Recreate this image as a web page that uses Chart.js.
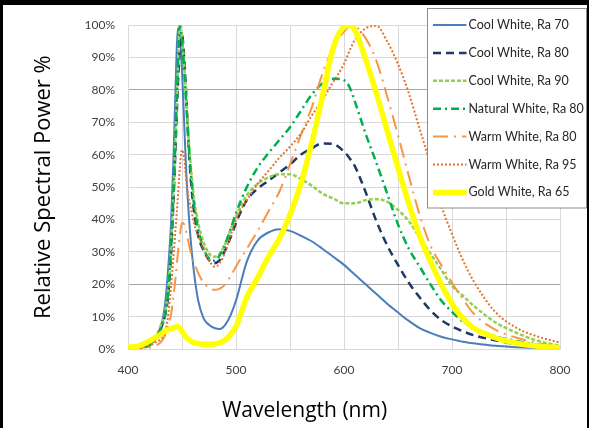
<!DOCTYPE html>
<html>
<head>
<meta charset="utf-8">
<script src="https://cdn.jsdelivr.net/npm/chart.js@4.4.1/dist/chart.umd.min.js"></script>
<style>
  html, body { margin: 0; padding: 0; background: #fff; }
  #frame {
    position: absolute; left: 0; top: 0; width: 589px; height: 428px; box-sizing: border-box;
    border-top: 5px solid #000; border-left: 3px solid #000; border-right: 2px solid #000; background: #fff;
  }
  canvas { display: block; }
</style>
</head>
<body>
<div id="frame"><canvas id="spectrum" width="584" height="423"></canvas></div>
<script>
// wavelength grid (nm) shared by all series, values in %
const wavelength = [400, 410, 420, 425, 430, 434, 437, 440, 442, 444, 446, 448, 450, 452, 454, 456, 458, 461, 465, 470,
  475, 480, 485, 490, 495, 500, 510, 520, 530, 540, 550, 560, 570, 580, 590, 600, 605, 610, 620, 630,
  640, 650, 660, 670, 680, 690, 700, 710, 720, 740, 760, 780, 800];

const coolWhite70 = [0, 0.3, 1.5, 3.5, 6.5, 13, 24, 40, 58, 80, 99, 97, 86, 70, 54, 43, 34, 24, 15, 9.5,
  7.5, 6.5, 6.2, 7.5, 10.5, 15, 27, 33.5, 36, 37, 36.5, 35, 33.3, 31, 28.5, 26, 24.5, 23, 20, 17,
  14, 11.3, 8.7, 6.5, 5, 3.8, 3, 2.3, 1.8, 1, 0.6, 0.3, 0.1];
const coolWhite80 = [0, 0.3, 1.5, 3, 6, 10, 16, 30, 45, 62, 80, 93, 97, 90, 78, 64, 53, 43, 35, 30.5,
  27.5, 26.5, 27.5, 30.5, 34.5, 39, 46, 49.5, 52, 54.5, 57, 60, 62, 63.5, 63.3, 61, 59, 56.5, 48.5, 39.5,
  32, 26, 20.5, 16, 12, 9, 7, 5.5, 4.3, 2.7, 1.5, 0.8, 0.3];
const coolWhite90 = [0, 0.3, 1.5, 3.5, 7, 11, 18, 33, 48, 66, 85, 99, 96, 88, 77, 66, 57, 47, 39, 33,
  29.5, 28.5, 29.5, 32.5, 37, 41, 47.5, 51, 53, 54, 54, 52.5, 50.5, 48, 46.5, 45, 45, 45, 46, 46.3,
  45.5, 43, 39.5, 34.5, 29.5, 24.5, 19.5, 16.5, 13.4, 8.3, 5, 2.5, 1];
const naturalWhite80 = [0, 0.3, 1.2, 3, 6, 10, 17, 32, 47, 65, 85, 100, 95, 86, 75, 64, 55, 45, 37, 31,
  28, 27.3, 29, 32.5, 37, 42, 50, 56, 60.5, 64.5, 68.5, 73.5, 78.5, 82, 83.5, 83, 81, 76.5, 66.5, 57.5,
  48, 38.5, 31, 25.5, 20, 15, 11.5, 8.5, 6.5, 4, 2.5, 1.3, 0.5];
const warmWhite80 = [0, 0.2, 0.5, 1, 2, 4, 7, 11, 16, 22, 29, 35, 39, 38.5, 36, 33, 30, 27, 23.5, 20.5,
  19, 18.3, 18.7, 20, 22.5, 25.5, 31, 36.5, 42.5, 48.5, 57, 66, 74.5, 85, 93, 98, 99.5, 99.5, 96, 89,
  78, 66, 53.5, 41.5, 32, 26, 20.5, 15.5, 11, 6, 3.5, 1.8, 0.7];
const warmWhite95 = [0, 0.2, 1, 2, 3, 5, 10, 20, 28, 37, 46, 56, 61.5, 59, 52, 47, 44, 39, 35, 31,
  27.5, 25.5, 26.5, 30, 35, 40, 46, 51, 55, 59, 62.5, 66.5, 72, 77, 82.5, 88, 92, 95.5, 99, 99.8,
  95, 88, 79, 68, 57, 44.5, 35.5, 27.5, 21, 11.5, 6.5, 3.8, 2];
const goldWhite65 = [0.5, 1, 2.5, 3.5, 4.5, 5.5, 6, 6.3, 6.5, 6.8, 7, 6.5, 5.5, 4.5, 3.5, 3, 2.5, 2, 1.7, 1.5,
  1.5, 1.6, 2, 2.8, 4.5, 7, 16, 22, 28.5, 34, 41.5, 51, 63.5, 78, 93, 99.5, 100, 98.5, 89.5, 79,
  67.5, 56, 45, 35, 27, 20, 14, 9.5, 6.5, 3.5, 1.8, 0.9, 0.4];

const seriesNames = ['Cool White, Ra 70', 'Cool White, Ra 80', 'Cool White, Ra 90', 'Natural White, Ra 80',
  'Warm White, Ra 80', 'Warm White, Ra 95', 'Gold White, Ra 65'];
const seriesValues = [coolWhite70, coolWhite80, coolWhite90, naturalWhite80, warmWhite80, warmWhite95, goldWhite65];

const xTickLabels = [400, 500, 600, 700, 800];
const yTickLabels = [0, 10, 20, 30, 40, 50, 60, 70, 80, 90, 100];

const lineStyles = [
  { color: '#4a7ebb', width: 2, dash: [] },
  { color: '#1f3864', width: 2.5, dash: [8, 5] },
  { color: '#92d050', width: 2.5, dash: [4, 2] },
  { color: '#00b050', width: 2.5, dash: [8, 4, 2, 4] },
  { color: '#f79646', width: 2, dash: [15, 6, 2, 6] },
  { color: '#e2742f', width: 2, dash: [2, 2] },
  { color: '#ffff00', width: 5.5, dash: [] }
];

// legend drawn on top of the plot with a white box, like the original
const legendBox = {
  id: 'legendBox',
  afterDraw(chart) {
    const ctx = chart.ctx;
    ctx.save();
    ctx.fillStyle = '#fff';
    ctx.fillRect(424.5, 3.5, 159, 199.5);
    ctx.strokeStyle = '#8c8c8c';
    ctx.lineWidth = 1;
    ctx.strokeRect(424.5, 3.5, 159, 199.5);
    ctx.font = '12.5px Lato';
    ctx.fillStyle = '#262626';
    ctx.textBaseline = 'middle';
    chart.data.datasets.forEach((ds, i) => {
      const rowY = 20 + i * 27.9;
      ctx.beginPath();
      ctx.strokeStyle = ds.borderColor;
      ctx.lineWidth = ds.borderWidth;
      ctx.setLineDash(ds.borderDash);
      ctx.moveTo(430, rowY);
      ctx.lineTo(463.5, rowY);
      ctx.stroke();
      ctx.setLineDash([]);
      ctx.fillText(ds.label, 465.5, rowY);
    });
    ctx.restore();
  }
};

const datasets = seriesNames.map((name, i) => ({
  label: name,
  data: wavelength.map((w, k) => ({ x: w, y: seriesValues[i][k] })),
  borderColor: lineStyles[i].color,
  borderWidth: lineStyles[i].width,
  borderDash: lineStyles[i].dash,
  pointRadius: 0,
  fill: false,
  cubicInterpolationMode: 'monotone',
  order: seriesNames.length - 1 - i
}));

new Chart(document.getElementById('spectrum').getContext('2d'), {
  type: 'line',
  data: { datasets },
  plugins: [legendBox],
  options: {
    responsive: false,
    animation: false,
    layout: { padding: { left: 46, right: 27, top: 18.3, bottom: 0 } },
    plugins: {
      legend: { display: false },
      tooltip: { enabled: false },
      title: {
        display: true,
        position: 'bottom',
        text: 'Wavelength (nm)',
        color: '#000',
        font: { family: 'Open Sans', size: 21, weight: 'normal' },
        padding: { top: 0, bottom: 4 }
      }
    },
    scales: {
      x: {
        type: 'linear',
        min: 400,
        max: 800,
        afterFit: scale => { scale.height = 49.7; },
        grid: { color: '#d9d9d9', drawTicks: false },
        border: { color: '#d9d9d9' },
        ticks: {
          stepSize: 50,
          padding: 14,
          color: '#404040',
          font: { family: 'Lato', size: 12 },
          maxRotation: 0,
          autoSkip: false,
          callback: v => (xTickLabels.includes(v) ? String(v) : '')
        }
      },
      y: {
        min: 0,
        max: 100,
        afterFit: scale => { scale.width = 79; },
        grid: {
          drawTicks: false,
          color: c => (c.tick && (c.tick.value === 20 || c.tick.value === 80) ? '#a6a6a6' : '#d9d9d9')
        },
        border: { color: '#d9d9d9' },
        ticks: {
          stepSize: 10,
          padding: 13,
          color: '#404040',
          font: { family: 'Lato', size: 12 },
          callback: v => (yTickLabels.includes(v) ? v + '%' : '')
        },
        title: {
          display: true,
          text: 'Relative Spectral Power %',
          color: '#000',
          font: { family: 'Open Sans', size: 22 },
          padding: { top: -18.2, bottom: 0 }
        }
      }
    }
  }
});
</script>
</body>
</html>
